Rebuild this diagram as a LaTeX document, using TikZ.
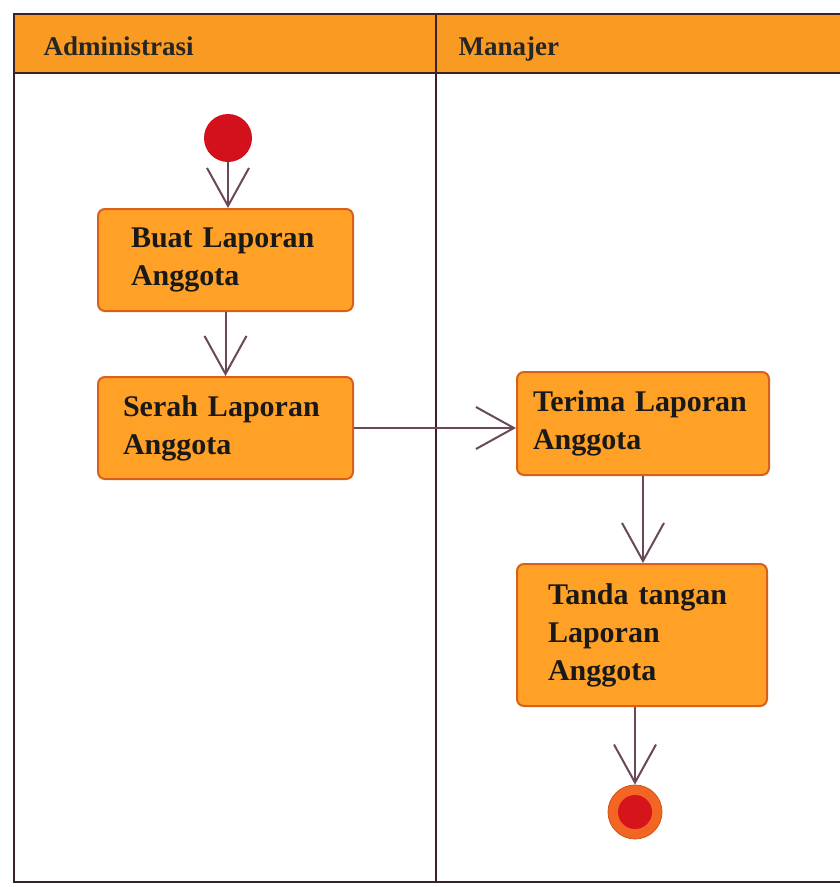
\documentclass[tikz,border=0pt]{standalone}
\usepackage{fontspec}
\setmainfont{Liberation Serif}
\usetikzlibrary{arrows.meta,calc}
\definecolor{hdrfill}{HTML}{F99A22}
\definecolor{boxfill}{HTML}{FFA126}
\definecolor{boxline}{HTML}{D8601A}
\definecolor{frameline}{HTML}{3A2226}
\definecolor{arrowcol}{HTML}{6A4858}
\definecolor{startred}{HTML}{D3111C}
\definecolor{endouter}{HTML}{F26522}
\definecolor{endinner}{HTML}{D6141C}
\tikzset{
  actbox/.style={draw=boxline, line width=2pt, fill=boxfill, rounded corners=7pt,
    align=left, anchor=north west, inner ysep=0pt,
    font=\fontsize{30}{38}\selectfont\bfseries, text=black!90},
  flow/.style={draw=arrowcol, line width=2pt,
    -{Straight Barb[length=38pt, width=42pt, line width=2pt]}},
  hdrtext/.style={font=\fontsize{27}{32}\selectfont\bfseries, text=black!85, anchor=base west},
  frame/.style={draw=frameline, line width=2.5pt}
}
\begin{document}
\begin{tikzpicture}[x=1pt,y=-1pt]
\useasboundingbox (0,0) rectangle (840,887);
\fill[white] (0,0) rectangle (840,887);
% header
\fill[hdrfill] (14,14) rectangle (840,73);
\draw[frame] (840,14) -- (14,14) -- (14,882) -- (840,882);
\draw[frame] (14,73) -- (840,73);
\draw[frame] (436,14) -- (436,882);
\node[hdrtext] (hA) at (40,55) {Administrasi};
\node[hdrtext] (hM) at (455,55) {Manajer};
% start
\node[circle, fill=startred, minimum size=48pt, inner sep=0pt] (start) at (228,138) {};
% boxes
\node[actbox, text width=189pt, inner xsep=33pt, minimum height=102pt] (b1) at (97,208) {Buat Laporan\\Anggota};
\node[actbox, text width=205pt, inner xsep=25pt, minimum height=102pt] (b2) at (97,376) {Serah Laporan\\Anggota};
\node[actbox, text width=220pt, inner xsep=16pt, minimum height=103pt] (b3) at (516,371) {Terima Laporan\\Anggota};
\node[actbox, text width=188pt, inner xsep=31pt, minimum height=142pt] (b4) at (516,563) {Tanda tangan\\Laporan\\Anggota};
% end
\node[circle, fill=endouter, draw=endouter!85!black, line width=0.8pt, minimum size=54pt, inner sep=0pt] (end) at (635,812) {};
\node[circle, fill=endinner, minimum size=34pt, inner sep=0pt] (endin) at (end) {};
% flows
\draw[flow] (start.south) -- (start.south |- b1.north);
\draw[flow] (b1.south) -- (b2.north);
\draw[flow] (b2.east) -- (b2.east -| b3.west);
\draw[flow] (b3.south) -- (b3.south |- b4.north);
\draw[flow] (b4.south -| end) -- (end.north);
\end{tikzpicture}
\end{document}
